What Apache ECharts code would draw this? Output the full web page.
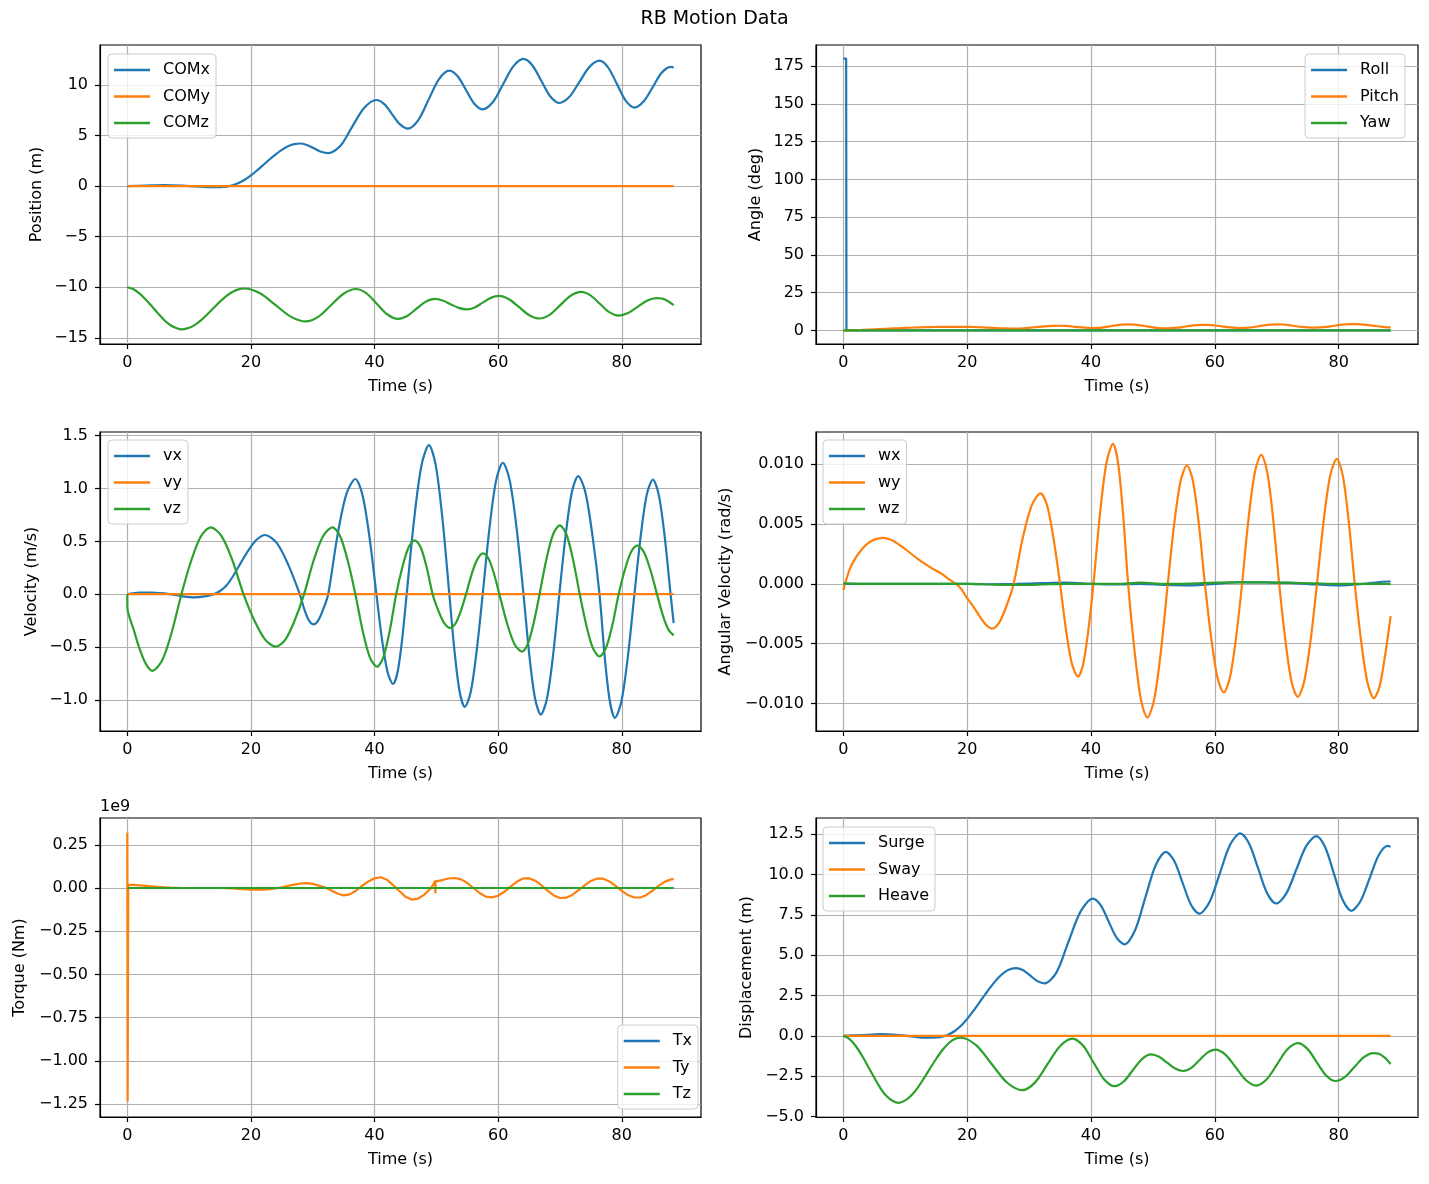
<!DOCTYPE html>
<html>
<head>
<meta charset="utf-8">
<title>RB Motion Data</title>
<script src="https://cdn.jsdelivr.net/npm/echarts@6/dist/echarts.min.js"></script>
<style>
html, body { margin: 0; padding: 0; background: #fff; }
#main { width: 1429px; height: 1184px; }
</style>
</head>
<body>
<div id="main"></div>
<script>
// ---- data (time in s) ----
var tFlat = [0, 88.4];
var zeroFlat = [0, 0];

// position of the centre of mass (m)
var comXT = [0,3,6,9,11,13.5,15,16,17,18,19,20,21,22,23,24,25,26,27,27.9,
    29.05,30.2,31.35,32.5,34.45,36.4,38.35,40.3,41.58,42.85,44.13,45.4,
    47.08,48.75,50.43,52.1,53.45,54.8,56.15,57.5,59.15,60.8,62.45,64.1,
    65.55,67.0,68.45,69.9,71.53,73.15,74.78,76.4,77.81,79.23,80.64,82.05,
    83.52,85.0,86.45,87.9,88.4];
var comX = [0,0.05,0.1,0.04,-0.04,-0.12,-0.1,-0.05,0.08,0.3,0.62,1.05,1.55,2.08,2.62,3.13,3.58,3.93,4.14,4.2,
    4.06,3.725,3.39,3.25,3.95,5.875,7.73,8.5,8.085,7.085,6.085,5.67,
    6.51,8.535,10.56,11.4,10.84,9.485,8.13,7.57,8.3,10.06,11.82,12.55,
    11.91,10.375,8.84,8.2,8.81,10.29,11.77,12.38,11.7,10.065,8.43,7.75,
    8.34,9.76,11.18,11.77,11.72];
var comZT = [0,1,2,3,4,5,6,7,8,8.9,10,11,12,13,14,15,16,17,18,19,
    21.48,23.95,26.43,28.9,30.93,32.95,34.98,37,38.7,40.4,42.1,43.8,
    45.28,46.75,48.23,49.7,51.0,52.3,53.6,54.9,56.2,57.5,58.8,60.1,
    61.75,63.4,65.05,66.7,68.38,70.05,71.73,73.4,74.93,76.45,77.98,79.5,
    81.03,82.55,84.08,85.6,86.5,87.5,88.4];
var comZ = [-10,-10.2,-10.63,-11.22,-11.9,-12.6,-13.25,-13.75,-14.04,-14.15,-14.0,-13.68,-13.22,-12.64,-12.02,-11.42,-10.88,-10.46,-10.2,-10.12,
    -10.596,-11.745,-12.894,-13.37,-12.9,-11.77,-10.64,-10.17,-10.602,-11.645,-12.688,-13.12,
    -12.831,-12.135,-11.439,-11.15,-11.301,-11.665,-12.029,-12.18,-11.985,-11.515,-11.045,-10.85,
    -11.177,-11.965,-12.753,-13.08,-12.695,-11.765,-10.835,-10.45,-10.794,-11.625,-12.456,-12.8,
    -12.547,-11.935,-11.323,-11.07,-11.11,-11.37,-11.75];

// angles (deg)
var tRoll = [0, 0.45, 0.5, 88.4];
var roll = [180, 180, 0, 0];
var pitchT = [0,1,2,3,4,5,6,7,8,9,10,11,12,13,14,15,16,17,18,19,20,21,22,23,24,25,26,27,28,29,
    30,31,32,33,34,35,36,37,38,39,40,41,42,43,44,45,46,47,48,49,50,51,52,53,54,55,56,57,58,59,
    60,61,62,63,64,65,66,67,68,69,70,71,72,73,74,75,76,77,78,79,80,81,82,83,84,85,86,87,88,88.4];
var pitch = [0,0.05,0.15,0.3,0.5,0.7,0.9,1.1,1.3,1.5,
    1.7,1.85,2.0,2.1,2.2,2.3,2.35,2.4,2.4,2.4,
    2.35,2.25,2.1,1.9,1.7,1.5,1.35,1.25,1.25,1.4,
    1.7,2.1,2.5,2.85,3.05,3.1,2.95,2.6,2.15,1.8,
    1.6,1.65,2.05,2.7,3.35,3.8,4.0,3.85,3.35,2.7,
    2.05,1.6,1.4,1.45,1.8,2.4,3.0,3.45,3.65,3.6,
    3.25,2.75,2.2,1.8,1.6,1.7,2.1,2.7,3.35,3.8,
    4.0,3.9,3.45,2.85,2.3,1.95,1.85,1.95,2.3,2.9,
    3.5,3.95,4.15,4.1,3.85,3.4,2.88,2.38,2.03,1.95];

// linear velocity (m/s)
var vxT = [0,2,4,7,9,10.8,12.5,14,15,16,17,18,19,20,21,22.3,
    24.17,26.03,27.9,28.63,29.37,30.1,30.9,31.7,32.5,
    33.97,35.43,36.9,38.03,39.17,40.3,41.2,42.1,43,43.73,44.47,45.2,
    46.4,47.6,48.8,49.9,51.0,52.1,52.93,53.77,54.6,55.57,56.53,57.5,
    58.59,59.67,60.76,61.87,62.99,64.1,65.03,65.97,66.9,67.9,68.9,69.9,
    70.92,71.93,72.95,74.1,75.25,76.4,77.23,78.07,78.9,79.95,81.0,82.05,
    83.05,84.04,85.04,85.99,86.95,87.9,88.4];
var vx = [0,0.015,0.015,0,-0.02,-0.03,-0.02,0,0.03,0.08,0.16,0.26,0.36,0.45,0.52,0.56,
    0.485,0.28,0,-0.1425,-0.247,-0.285,-0.247,-0.1425,0,
    0.545,0.944,1.09,0.944,0.545,0,-0.425,-0.736,-0.85,-0.736,-0.425,0,
    0.705,1.221,1.41,1.221,0.705,0,-0.533,-0.923,-1.066,-0.923,-0.533,0,
    0.622,1.077,1.244,1.077,0.622,0,-0.57,-0.987,-1.14,-0.987,-0.57,0,
    0.5585,0.967,1.117,0.967,0.5585,0,-0.585,-1.013,-1.17,-1.013,-0.585,0,
    0.5425,0.94,1.085,0.94,0.5425,0,-0.275];
var vzT = [0,0.02,1,2,3,4.05,5.62,7.18,8.75,10.33,11.92,13.5,15.27,17.03,18.8,
    20.55,22.3,24.05,25.57,27.08,28.6,30.13,31.67,33.2,34.43,35.67,36.9,
    38.07,39.23,40.4,41.43,42.47,43.5,44.5,45.5,46.5,47.47,48.43,49.4,
    50.35,51.3,52.25,53.1,53.95,54.8,55.73,56.67,57.6,58.47,59.33,60.2,
    61.42,62.63,63.85,64.8,65.75,66.7,67.79,68.88,69.97,71.05,72.12,73.2,
    74.27,75.33,76.4,77.43,78.47,79.5,80.5,81.5,82.5,83.57,84.63,85.7,
    86.7,87.6,88.4];
var vz = [0,-0.13,-0.33,-0.52,-0.66,-0.725,-0.628,-0.3625,0,0.3165,0.548,0.633,0.548,0.3165,0,
    -0.2485,-0.43,-0.497,-0.43,-0.2485,0,0.3165,0.548,0.633,0.548,0.3165,0,
    -0.3435,-0.595,-0.687,-0.595,-0.3435,0,0.255,0.442,0.51,0.442,0.255,0,
    -0.16,-0.277,-0.32,-0.277,-0.16,0,0.193,0.334,0.386,0.334,0.193,0,
    -0.272,-0.471,-0.544,-0.471,-0.272,0,0.326,0.565,0.652,0.565,0.326,0,
    -0.295,-0.511,-0.59,-0.511,-0.295,0,0.231,0.40,0.462,0.40,0.231,0,
    -0.21,-0.34,-0.39];

// angular velocity (rad/s)
var wyT = [0,1,2,3,4,5,6.5,8,10,12,14,16,17,18.2,19,20,21,22,23,24,
    25.17,26.33,27.5,28.95,30.41,31.86,32.91,33.95,35.0,35.97,36.93,37.9,38.73,39.57,40.4,
    41.45,42.5,43.55,44.37,45.18,46.0,47.03,48.07,49.1,50.2,51.3,52.4,
    53.43,54.47,55.5,56.47,57.43,58.4,59.42,60.43,61.45,62.43,63.42,64.4,
    65.43,66.47,67.5,68.47,69.43,70.4,71.4,72.4,73.4,74.43,75.47,76.5,
    77.57,78.63,79.7,80.67,81.63,82.6,83.63,84.67,85.7,86.6,87.5,88.4];
var wy = [-0.0005,0.0012,0.0022,0.0029,0.0034,0.0037,0.00385,0.0036,0.0029,0.0021,0.0014,0.0008,0.0004,0,-0.0004,-0.0012,-0.0019,-0.0027,-0.0034,-0.00374,
    -0.00324,-0.00187,0,0.00378,0.00655,0.00756,0.00655,0.00378,0,-0.003875,-0.00671,-0.00775,-0.00671,-0.003875,0,
    0.00585,0.01013,0.0117,0.01013,0.00585,0,-0.00559,-0.00968,-0.01118,-0.00968,-0.00559,0,
    0.00496,0.00859,0.00992,0.00859,0.00496,0,-0.004535,-0.00785,-0.00907,-0.00785,-0.004535,0,
    0.0054,0.00934,0.01079,0.00934,0.0054,0,-0.00472,-0.00818,-0.00944,-0.00818,-0.00472,0,
    0.005225,0.00905,0.01045,0.00905,0.005225,0,-0.004775,-0.00827,-0.00955,-0.0086,-0.006,-0.0027];
var tCoarse = [0,4,8,12,16,20,24,28,32,36,40,44,48,52,56,60,64,68,72,76,80,84,88,88.4];
var wx = [0,0,0,0,0,0,-0.00003,0,0.00006,0.0001,0,-0.00005,0,-0.00008,-0.00012,0,
    0.00015,0.00012,0.00008,-0.00005,-0.00012,0,0.0002,0.0002];
var wz = [0.00005,0,0,0,0,0,-0.00005,-0.00008,-0.00005,0,0,0,0.0001,0,0.00003,0.0001,
    0.00012,0.00012,0.0001,0.00005,0,0,0,-0.00003];

// torque in units of 1e9 Nm
var tTq = [0,0.05,0.15,1,2,3,4,5,6,7,8,9,10,11,12,13,14,15,16,17,18,19,20,
    21,22,23,24,25,26,27,28,29,30,31,32,33,34,35,36,37,38,39,40,
    41,42,43,44,45,46,47,48,49,49.6,49.8,49.84,49.88,
    50,51,52,53,54,55,56,57,58,59,60,61,62,63,64,65,66,67,68,69,
    70,71,72,73,74,75,76,77,78,79,80,81,82,83,84,85,86,87,88,88.4];
var ty = [0.32,-1.235,0.02,
    0.018,0.015,0.012,0.009,0.006,0.004,0.002,0.001,0.0,0.0,
    0.0,0.0,0.0,0.0,0.0,-0.001,-0.003,-0.005,-0.007,-0.009,
    -0.01,-0.009,-0.006,-0.002,0.004,0.012,0.02,0.026,0.028,0.024,
    0.014,0.003,-0.015,-0.032,-0.043,-0.037,-0.016,0.013,0.038,0.056,
    0.062,0.048,0.017,-0.017,-0.05,-0.067,-0.062,-0.04,-0.006,
    0.025,0.042,-0.03,0.038,
    0.039,0.046,0.055,0.058,0.05,0.029,0.0,-0.029,-0.05,-0.054,
    -0.045,-0.022,0.008,0.036,0.055,0.057,0.042,0.015,-0.015,-0.043,
    -0.058,-0.056,-0.04,-0.013,0.015,0.041,0.055,0.054,0.038,0.012,
    -0.017,-0.041,-0.055,-0.055,-0.04,-0.015,0.014,0.037,0.05,0.051];

// displacement (m), same time points as comX / comZ
var surge = [0,0.05,0.1,0.04,-0.04,-0.12,-0.1,-0.05,0.08,0.3,0.62,1.05,1.55,2.08,2.62,3.13,3.58,3.93,4.14,4.2,
    4.06,3.725,3.39,3.25,3.95,5.875,7.73,8.5,8.085,7.085,6.085,5.67,
    6.51,8.535,10.56,11.4,10.84,9.485,8.13,7.57,8.3,10.06,11.82,12.55,
    11.91,10.375,8.84,8.2,8.81,10.29,11.77,12.38,11.7,10.065,8.43,7.75,
    8.34,9.76,11.18,11.77,11.72];
var heave = [0,-0.2,-0.63,-1.22,-1.9,-2.6,-3.25,-3.75,-4.04,-4.15,-4.0,-3.68,-3.22,-2.64,-2.02,-1.42,-0.88,-0.46,-0.2,-0.12,
    -0.596,-1.745,-2.894,-3.37,-2.9,-1.77,-0.64,-0.17,-0.602,-1.645,-2.688,-3.12,
    -2.831,-2.135,-1.439,-1.15,-1.301,-1.665,-2.029,-2.18,-1.985,-1.515,-1.045,-0.85,
    -1.177,-1.965,-2.753,-3.08,-2.695,-1.765,-0.835,-0.45,-0.794,-1.625,-2.456,-2.8,
    -2.547,-1.935,-1.323,-1.07,-1.11,-1.37,-1.75];

// tick labels
var xTicks = [0, 20, 40, 60, 80];
var posTicks = [-15, -10, -5, 0, 5, 10];
var angTicks = [0, 25, 50, 75, 100, 125, 150, 175];
var velTicks = [-1.0, -0.5, 0.0, 0.5, 1.0, 1.5];
var angVelTicks = [-0.01, -0.005, 0, 0.005, 0.01];
var torqueTicks = [-1.25, -1.0, -0.75, -0.5, -0.25, 0, 0.25];
var dispTicks = [-5, -2.5, 0, 2.5, 5, 7.5, 10, 12.5];

var FONT = 'DejaVu Sans';
var BLUE = '#1f77b4', ORANGE = '#ff7f0e', GREEN = '#2ca02c';

function zip(ts, vs) {
    var out = [];
    for (var i = 0; i < ts.length; i++) out.push([ts[i], vs[i]]);
    return out;
}

function fmt(d) {
    return function (v) { return Number(v).toFixed(d).replace('-', '\u2212'); };
}

var grids = [
    {left: 100, top: 45, width: 601, height: 299},
    {left: 816, top: 45, width: 602, height: 299},
    {left: 100, top: 432, width: 601, height: 299},
    {left: 816, top: 432, width: 602, height: 299},
    {left: 100, top: 818, width: 601, height: 299},
    {left: 816, top: 818, width: 602, height: 299}
];
grids.forEach(function (g) {
    g.show = true; g.borderColor = '#000'; g.borderWidth = 1.2; g.backgroundColor = 'transparent';
});

function xAxis(i) {
    return {
        type: 'value', gridIndex: i, min: -4.42, max: 92.82,
        name: 'Time (s)', nameLocation: 'middle', nameGap: 35,
        nameTextStyle: {fontSize: 16, color: '#000', fontFamily: FONT},
        axisLine: {show: true, onZero: false, lineStyle: {color: '#000', width: 1.2}},
        axisTick: {show: true, length: 5, customValues: xTicks, lineStyle: {color: '#000', width: 1.2}},
        axisLabel: {fontSize: 16, color: '#000', fontFamily: FONT, margin: 11, customValues: xTicks, formatter: fmt(0)},
        splitLine: {show: true, lineStyle: {color: '#b0b0b0', width: 1.2}}
    };
}

function yAxis(i, name, min, max, ticks, dec, gap) {
    return {
        type: 'value', gridIndex: i, min: min, max: max,
        name: name, nameLocation: 'middle', nameGap: gap,
        nameTextStyle: {fontSize: 16, color: '#000', fontFamily: FONT},
        axisLine: {show: true, onZero: false, lineStyle: {color: '#000', width: 1.2}},
        axisTick: {show: true, length: 5, customValues: ticks, lineStyle: {color: '#000', width: 1.2}},
        axisLabel: {fontSize: 16, color: '#000', fontFamily: FONT, margin: 12, customValues: ticks, formatter: fmt(dec)},
        splitLine: {show: true, lineStyle: {color: '#b0b0b0', width: 1.2}}
    };
}

function line(name, i, ts, vs, color, smooth) {
    return {
        type: 'line', name: name, xAxisIndex: i, yAxisIndex: i,
        data: zip(ts, vs), showSymbol: false, symbol: 'none',
        smooth: smooth ? 0.3 : false,
        lineStyle: {color: color, width: 2.2}, itemStyle: {color: color}
    };
}

function legend(pos, names) {
    var l = {
        orient: 'vertical', data: names, icon: 'rect', itemWidth: 36, itemHeight: 2.5, itemGap: 10.5,
        padding: [8, 6, 7, 6], backgroundColor: 'rgba(255,255,255,0.8)',
        borderColor: '#cccccc', borderWidth: 1, borderRadius: 4, selectedMode: false,
        textStyle: {fontSize: 16, color: '#000', fontFamily: FONT, lineHeight: 16, padding: [0, 0, 0, 8]}
    };
    for (var k in pos) l[k] = pos[k];
    return l;
}

var option = {
    backgroundColor: '#fff',
    animation: false,
    title: {text: 'RB Motion Data', left: 'center', top: 10, padding: 0,
        textStyle: {fontSize: 19, fontWeight: 'normal', color: '#000', fontFamily: FONT}},
    graphic: [{type: 'text', left: 100, top: 799, style: {text: '1e9', fontSize: 16, fill: '#000', fontFamily: FONT}}],
    grid: grids,
    xAxis: [xAxis(0), xAxis(1), xAxis(2), xAxis(3), xAxis(4), xAxis(5)],
    yAxis: [
        yAxis(0, 'Position (m)', -15.6, 13.93, posTicks, 0, 55),
        yAxis(1, 'Angle (deg)', -9, 189, angTicks, 0, 52),
        yAxis(2, 'Velocity (m/s)', -1.295, 1.535, velTicks, 1, 60),
        yAxis(3, 'Angular Velocity (rad/s)', -0.0123, 0.0127, angVelTicks, 3, 82),
        yAxis(4, 'Torque (Nm)', -1.325, 0.405, torqueTicks, 2, 72),
        yAxis(5, 'Displacement (m)', -5.03, 13.5, dispTicks, 1, 61)
    ],
    legend: [
        legend({left: 108, top: 54}, ['COMx', 'COMy', 'COMz']),
        legend({right: 24, top: 54}, ['Roll', 'Pitch', 'Yaw']),
        legend({left: 108, top: 440}, ['vx', 'vy', 'vz']),
        legend({left: 823, top: 440}, ['wx', 'wy', 'wz']),
        legend({right: 731, bottom: 75}, ['Tx', 'Ty', 'Tz']),
        legend({left: 823, top: 827}, ['Surge', 'Sway', 'Heave'])
    ],
    series: [
        line('COMx', 0, comXT, comX, BLUE, true),
        line('COMy', 0, tFlat, zeroFlat, ORANGE, false),
        line('COMz', 0, comZT, comZ, GREEN, true),
        line('Roll', 1, tRoll, roll, BLUE, false),
        line('Pitch', 1, pitchT, pitch, ORANGE, true),
        line('Yaw', 1, tFlat, zeroFlat, GREEN, false),
        line('vx', 2, vxT, vx, BLUE, true),
        line('vy', 2, tFlat, zeroFlat, ORANGE, false),
        line('vz', 2, vzT, vz, GREEN, true),
        line('wx', 3, tCoarse, wx, BLUE, true),
        line('wy', 3, wyT, wy, ORANGE, true),
        line('wz', 3, tCoarse, wz, GREEN, true),
        line('Tx', 4, tFlat, zeroFlat, BLUE, false),
        line('Ty', 4, tTq, ty, ORANGE, false),
        line('Tz', 4, tFlat, zeroFlat, GREEN, false),
        line('Surge', 5, comXT, surge, BLUE, true),
        line('Sway', 5, tFlat, zeroFlat, ORANGE, false),
        line('Heave', 5, comZT, heave, GREEN, true)
    ]
};

var chart = echarts.init(document.getElementById('main'));
chart.setOption(option);
</script>
</body>
</html>
